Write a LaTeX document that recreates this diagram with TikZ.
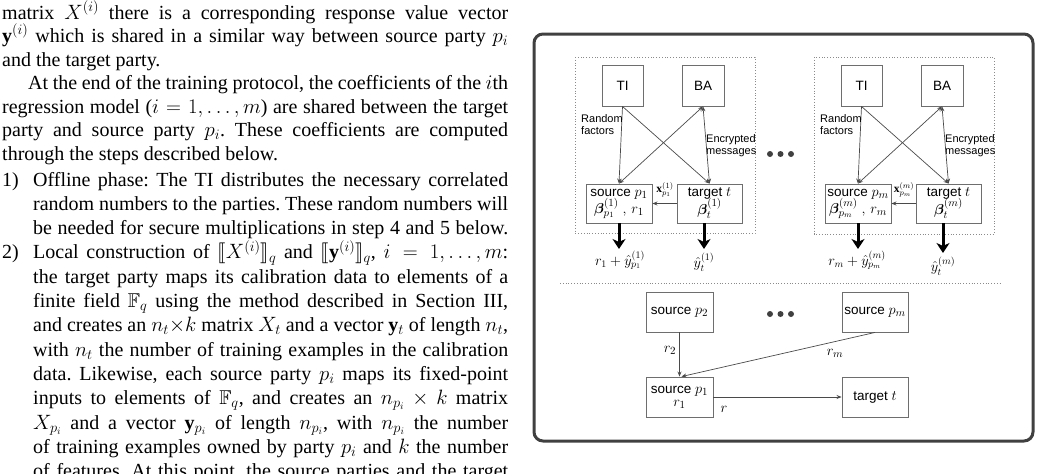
\documentclass[tikz,border=0pt]{standalone}
\usepackage{amsmath,amssymb,bm,stmaryrd}
\usepackage{fontspec}
\setmainfont{Liberation Serif}
\setsansfont{Liberation Sans}
\usetikzlibrary{arrows.meta}
\frenchspacing
\definecolor{boxgray}{HTML}{6E6E6E}
\definecolor{linegray}{HTML}{4A4A4A}
\definecolor{dotgray}{HTML}{8A8A8A}
\definecolor{framegray}{HTML}{404040}
\newcommand{\bxm}[1]{{\fontsize{15.5}{16}\selectfont$#1$}}
\tikzset{
  txt/.style={anchor=base west, inner sep=0pt, font=\fontsize{20}{24}\selectfont},
  pbox/.style={draw=boxgray, line width=0.9pt, inner sep=0pt, align=center, font=\sffamily\fontsize{13.5}{16}\selectfont},
  conn/.style={draw=linegray, line width=0.7pt, -{Stealth[length=5pt,width=4pt]}},
  biconn/.style={draw=linegray, line width=0.7pt, {Stealth[length=5pt,width=4pt]}-{Stealth[length=5pt,width=4pt]}},
  fat/.style={draw=black, line width=3pt, -{Stealth[length=10pt,width=13pt,inset=3pt]}},
  lab/.style={inner sep=0pt, font=\sffamily\fontsize{11}{12.5}\selectfont, align=left},
  mlab/.style={inner sep=0pt, font=\fontsize{14}{16}\selectfont},
  slab/.style={inner sep=0pt, font=\fontsize{11.5}{12}\selectfont},
  dotbox/.style={draw=dotgray, dotted, line width=0.8pt},
  dotnode/.style={circle, fill=black!75, minimum size=6pt, inner sep=0pt}
}
\begin{document}
\begin{tikzpicture}[x=1pt,y=-1pt]
\useasboundingbox (0,0) rectangle (1042,474);
% ---------------- left text column ----------------
\node[txt] (l1) at (2,19) {\makebox[506pt][s]{matrix $X^{(i)}$ there is a corresponding response value vector}};
\node[txt] (l2) at (2,42.5) {\makebox[506pt][s]{$\mathbf{y}^{(i)}$ which is shared in a similar way between source party $p_i$}};
\node[txt] (l3) at (2,66) {and the target party.};
\node[txt] (l4) at (28,89.5) {\makebox[480pt][s]{At the end of the training protocol, the coefficients of the $i$th}};
\node[txt] (l5) at (2,113) {\makebox[506pt][s]{regression model ($i = 1, \ldots, m$) are shared between the target}};
\node[txt] (l6) at (2,136.5) {\makebox[506pt][s]{party and source party $p_i$. These coefficients are computed}};
\node[txt] (l7) at (2,160) {through the steps described below.};
\node[txt] (n1) at (2,186) {1)};
\node[txt] (l8) at (33,186) {\makebox[475pt][s]{Offline phase: The TI distributes the necessary correlated}};
\node[txt] (l9) at (33,210.3) {\makebox[475pt][s]{random numbers to the parties. These random numbers will}};
\node[txt] (l10) at (33,234.6) {\makebox[475pt][s]{be needed for secure multiplications in step 4 and 5 below.}};
\node[txt] (n2) at (2,258.9) {2)};
\node[txt] (l11) at (33,258.9) {\makebox[475pt][s]{Local construction of $\llbracket X^{(i)}\rrbracket_q$ and $\llbracket \mathbf{y}^{(i)}\rrbracket_q$, $i = 1, \ldots, m$:}};
\node[txt] (l12) at (33,283.2) {\makebox[475pt][s]{the target party maps its calibration data to elements of a}};
\node[txt] (l13) at (33,307.5) {\makebox[475pt][s]{finite field $\mathbb{F}_q$ using the method described in Section III,}};
\node[txt] (l14) at (33,331.8) {\makebox[475pt][s]{and creates an $n_t{\times}k$ matrix $X_t$ and a vector $\mathbf{y}_t$ of length $n_t$,}};
\node[txt] (l15) at (33,356.1) {\makebox[475pt][s]{with $n_t$ the number of training examples in the calibration}};
\node[txt] (l16) at (33,380.4) {\makebox[475pt][s]{data. Likewise, each source party $p_i$ maps its fixed-point}};
\node[txt] (l17) at (33,404.7) {\makebox[475pt][s]{inputs to elements of $\mathbb{F}_q$, and creates an $n_{p_i} \times k$ matrix}};
\node[txt] (l18) at (33,429) {\makebox[475pt][s]{$X_{p_i}$ and a vector $\mathbf{y}_{p_i}$ of length $n_{p_i}$, with $n_{p_i}$ the number}};
\node[txt] (l19) at (33,453.3) {\makebox[475pt][s]{of training examples owned by party $p_i$ and $k$ the number}};
\node[txt] (l20) at (33,477.6) {\makebox[475pt][s]{of features. At this point, the source parties and the target}};
% ---------------- figure frame ----------------
\draw[line width=3pt, framegray, rounded corners=9pt] (534,34) rectangle (1033,441);
\draw[dotbox] (575,57) rectangle (755,233);
\draw[dotbox] (814,57) rectangle (994,234);
\draw[dotbox] (560,283) -- (1000,283);
% ---------------- group 1 ----------------
\node[pbox, minimum width=41pt, minimum height=41pt] (TIa) at (622.5,85.5) {TI};
\node[pbox, minimum width=42pt, minimum height=41pt] (BAa) at (703,85.5) {BA};
\node[pbox, minimum width=66pt, minimum height=39pt] (srca) at (619,203.5) {source \bxm{p_1}\\[-2pt]\bxm{\bm{\beta}^{(1)}_{p_1}\;,\,r_1}};
\node[pbox, minimum width=65pt, minimum height=39pt] (tgta) at (709.5,203.5) {target \bxm{t}\\[-2pt]\bxm{\bm{\beta}^{(1)}_{t}}};
\draw[conn] (TIa.south) -- (srca.north);
\draw[conn] (TIa.south) -- (tgta.north);
\draw[biconn] (BAa.south) -- (srca.north);
\draw[biconn] (BAa.south) -- (tgta.north);
\draw[conn] (tgta.west) -- (srca.east);
\node[slab] (xa) at (665,190) {$\mathbf{x}^{(1)}_{p_1}$};
\node[lab, anchor=west] (rfa) at (581,124.5) {Random\\factors};
\node[lab, anchor=west] (ema) at (706,145.5) {Encrypted\\messages};
\coordinate (sa) at (619,249);
\coordinate (ta) at (704,249);
\draw[fat] (srca.south -| sa) -- (sa);
\draw[fat] (tgta.south -| ta) -- (ta);
\node[mlab] (ya) at (620,260) {$r_1 + \hat{y}^{(1)}_{p_1}$};
\node[mlab] (yta) at (704,262) {$\hat{y}^{(1)}_{t}$};
% dots between groups
\node[dotnode] (da1) at (770,154) {};
\node[dotnode] (da2) at (780.5,154) {};
\node[dotnode] (da3) at (791,154) {};
% ---------------- group m ----------------
\node[pbox, minimum width=41pt, minimum height=41pt] (TIb) at (861.5,85.5) {TI};
\node[pbox, minimum width=42pt, minimum height=41pt] (BAb) at (942,85.5) {BA};
\node[pbox, minimum width=66pt, minimum height=39pt] (srcb) at (858,203.5) {source \bxm{p_m}\\[-2pt]\bxm{\bm{\beta}^{(m)}_{p_m}\;,\,r_m}};
\node[pbox, minimum width=65pt, minimum height=39pt] (tgtb) at (948.5,203.5) {target \bxm{t}\\[-2pt]\bxm{\bm{\beta}^{(m)}_{t}}};
\draw[conn] (TIb.south) -- (srcb.north);
\draw[conn] (TIb.south) -- (tgtb.north);
\draw[biconn] (BAb.south) -- (srcb.north);
\draw[biconn] (BAb.south) -- (tgtb.north);
\draw[conn] (tgtb.west) -- (srcb.east);
\node[slab] (xb) at (904,190) {$\mathbf{x}^{(m)}_{p_m}$};
\node[lab, anchor=west] (rfb) at (820,124.5) {Random\\factors};
\node[lab, anchor=west] (emb) at (945,145.5) {Encrypted\\messages};
\coordinate (sb) at (858,249);
\coordinate (tb) at (943,253);
\draw[fat] (srcb.south -| sb) -- (sb);
\draw[fat] (tgtb.south -| tb) -- (tb);
\node[mlab] (yb) at (857,260) {$r_m + \hat{y}^{(m)}_{p_m}$};
\node[mlab] (ytb) at (943,266) {$\hat{y}^{(m)}_{t}$};
% ---------------- bottom part ----------------
\node[pbox, minimum width=67pt, minimum height=40pt] (bs2) at (679.5,312) {source \bxm{p_2}};
\node[pbox, minimum width=66pt, minimum height=40pt] (bsm) at (875,312) {source \bxm{p_m}};
\node[pbox, minimum width=67pt, minimum height=40pt] (bs1) at (679.5,397) {source \bxm{p_1}\\[-3pt]\bxm{r_1}};
\node[pbox, minimum width=66pt, minimum height=40pt] (bt) at (875,397) {target \bxm{t}};
\node[dotnode] (db1) at (770,314) {};
\node[dotnode] (db2) at (780.5,314) {};
\node[dotnode] (db3) at (791,314) {};
\draw[conn] (bs2.south) -- (bs1.north);
\draw[conn] (bsm.south) -- ([xshift=2pt]bs1.north);
\draw[conn] (bs1.east) -- (bt.west);
\node[mlab] (r2) at (670,350) {\bxm{r_2}};
\node[mlab] (rm) at (835,353) {\bxm{r_m}};
\node[mlab] (rr) at (724,409) {\bxm{r}};
\end{tikzpicture}
\end{document}
